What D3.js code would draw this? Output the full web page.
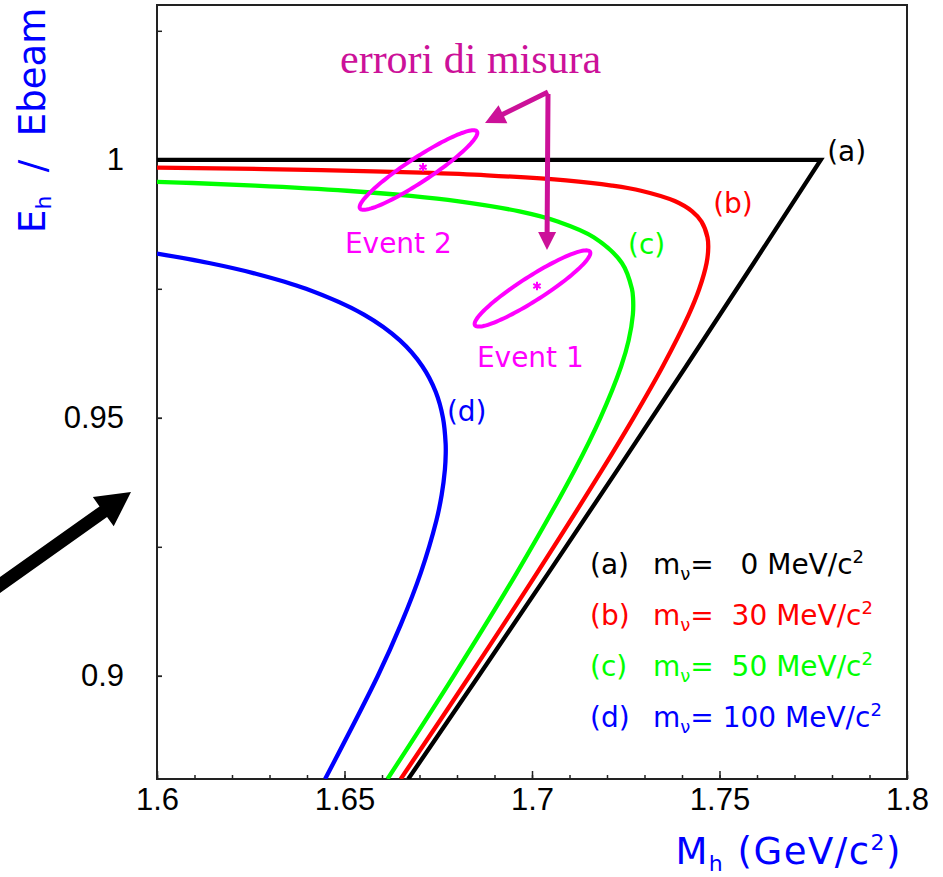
<!DOCTYPE html>
<html>
<head>
<meta charset="utf-8">
<script src="https://cdn.jsdelivr.net/npm/d3@7"></script>
<style>
    body { margin: 0; background: #fff; }
    svg { display: block; }
    text { white-space: pre; }
</style>
</head>
<body>
<svg id="chart" width="943" height="877"></svg>
<script>
// Neutrino masses (MeV/c^2) for the four kinematic limits
const nuMasses = [0, 30, 50, 100];
const curveTags = ['a', 'b', 'c', 'd'];

// Limits: M_h (GeV/c^2) and E_h / Ebeam
const curveA_M = [1.6, 1.777, 1.75914, 1.74110, 1.72287, 1.70444, 1.68581, 1.66700];
const curveA_E = [1.0, 1.0, 0.98, 0.96, 0.94, 0.92, 0.90, 0.88];

const curveB_M = [1.66499, 1.68340, 1.70140, 1.71877, 1.72706, 1.73488, 1.74181, 1.74461, 1.74656, 1.74700,
    1.74679, 1.74520, 1.74271, 1.73806, 1.72907, 1.72129, 1.70909, 1.68794, 1.67055, 1.64387, 1.62879, 1.6];
const curveB_E = [0.88, 0.90, 0.92, 0.94, 0.95, 0.96, 0.97, 0.975, 0.98, 0.983,
    0.985, 0.988, 0.99, 0.992, 0.994, 0.995, 0.996, 0.997, 0.9975, 0.998, 0.9982, 0.99848];

const curveC_M = [1.66147, 1.67913, 1.69598, 1.71146, 1.71824, 1.72378, 1.72577, 1.72690, 1.72696, 1.72664,
    1.72397, 1.71645, 1.70704, 1.69666, 1.68002, 1.66763, 1.65064, 1.62617, 1.60949, 1.6];
const curveC_E = [0.88, 0.90, 0.92, 0.94, 0.95, 0.96, 0.965, 0.97, 0.973, 0.975,
    0.98, 0.985, 0.988, 0.99, 0.992, 0.993, 0.994, 0.995, 0.9955, 0.99574];

const curveD_M = [1.64483, 1.65890, 1.66506, 1.67036, 1.67447, 1.67590, 1.67678, 1.67699, 1.67697, 1.67626,
    1.67434, 1.67075, 1.66478, 1.65519, 1.63975, 1.62595, 1.61387, 1.6];
const curveD_E = [0.88, 0.90, 0.91, 0.92, 0.93, 0.935, 0.94, 0.943, 0.945, 0.95,
    0.955, 0.96, 0.965, 0.97, 0.975, 0.978, 0.98, 0.98183];

// Measured events and their error ellipses (half axes in data units)
const eventNames = ['Event 1', 'Event 2'];
const eventM = [1.70133, 1.67093];
const eventE = [0.97554, 0.99857];
const ellipseM = [1.70013, 1.66973];
const ellipseE = [0.97506, 0.99802];
const ellipseMajM = [0.01533, 0.01560];
const ellipseMajE = [0.00713, 0.00746];
const ellipseMinM = [0.00176, 0.00176];
const ellipseMinE = [-0.00194, -0.00194];

// Axis ticks
const xTicks = [1.6, 1.65, 1.7, 1.75, 1.8];
const yTicks = [0.9, 0.95, 1];
const yMinorTicks = [0.9, 0.925, 0.95, 0.975, 1, 1.025];

const COLORS = ['#000000', '#ff0000', '#00ff00', '#0000ff'];
const MAGENTA = '#ff00ff';
const PURPLE = '#cc1199';
const SANS = '"DejaVu Sans", sans-serif';

const chart = (function () {

    let svg = d3.select('#chart'),
        x = d3.scaleLinear().domain([1.6, 1.8]).range([157, 907]),
        y = d3.scaleLinear().domain([0.88, 1.03]).range([779, 5])
    ;

    return { init };

    function init() {
        drawAxes();
        drawCurves();
        drawEvents();
        drawLegend();
        drawAnnotations();
    }

    function drawAxes() {
        svg.append('clipPath').attr('id', 'clip')
            .append('rect')
            .attr('x', x(1.6)).attr('y', y(1.03))
            .attr('width', x(1.8) - x(1.6)).attr('height', y(0.88) - y(1.03));

        let gx = svg.append('g').attr('transform', `translate(0,${y(0.88)})`);
        gx.call(d3.axisBottom(x).tickValues(x.ticks(20)).tickSize(-4).tickFormat(''));
        gx.append('g').call(d3.axisBottom(x).tickValues(xTicks).tickSize(-8).tickPadding(9).tickFormat(String));

        let gy = svg.append('g').attr('transform', `translate(${x(1.6)},0)`);
        gy.call(d3.axisLeft(y).tickValues(yMinorTicks).tickSize(-5).tickFormat(''));
        gy.append('g').call(d3.axisLeft(y).tickValues(yTicks).tickSize(-5).tickPadding(33).tickFormat(String));

        svg.selectAll('.domain').remove();
        svg.selectAll('.tick line').attr('stroke', '#222').attr('stroke-width', 1.5);
        svg.selectAll('.tick text')
            .attr('font-family', '"Liberation Sans", Arial, sans-serif')
            .attr('font-size', 31)
            .attr('fill', '#000');

        svg.append('rect')
            .attr('x', x(1.6)).attr('y', y(1.03))
            .attr('width', x(1.8) - x(1.6)).attr('height', y(0.88) - y(1.03))
            .attr('fill', 'none').attr('stroke', '#222').attr('stroke-width', 2);

        // Axis titles
        let xt = svg.append('text')
            .attr('x', 902).attr('y', 864)
            .attr('text-anchor', 'end')
            .attr('letter-spacing', 1.5)
            .attr('font-family', SANS).attr('font-size', 37).attr('fill', '#0000ff');
        xt.append('tspan').text('M');
        xt.append('tspan').attr('dy', 7).attr('font-size', 22).text('h');
        xt.append('tspan').attr('dy', -7).text(' (GeV/c');
        xt.append('tspan').attr('dy', -14).attr('font-size', 22).text('2');
        xt.append('tspan').attr('dy', 14).text(')');

        let yt = svg.append('text')
            .attr('transform', 'translate(45,233) rotate(-90)')
            .attr('font-family', SANS).attr('font-size', 37).attr('fill', '#0000ff');
        yt.append('tspan').text('E');
        yt.append('tspan').attr('dy', 6).attr('font-size', 22).text('h');
        yt.append('tspan').attr('dy', -6).text('  /  Ebeam');
    }

    function drawCurves() {
        let smooth = d3.line().x((d) => x(d[0])).y((d) => y(d[1])).curve(d3.curveCatmullRom.alpha(0.5)),
            straight = d3.line().x((d) => x(d[0])).y((d) => y(d[1])),
            series = [
                d3.zip(curveA_M, curveA_E),
                d3.zip(curveB_M, curveB_E),
                d3.zip(curveC_M, curveC_E),
                d3.zip(curveD_M, curveD_E)
            ];

        svg.append('g').attr('clip-path', 'url(#clip)')
            .selectAll('path')
            .data(series)
            .enter().append('path')
            .attr('d', (d, i) => i === 0 ? straight(d) : smooth(d))
            .attr('fill', 'none')
            .attr('stroke', (d, i) => COLORS[i])
            .attr('stroke-width', 4.3)
            .attr('stroke-linejoin', 'miter');

        // Curve tags
        let tagPos = [[1.7787, 0.9998], [1.7483, 0.9897], [1.7256, 0.9817], [1.6773, 0.9494]];
        svg.append('g').selectAll('text')
            .data(curveTags)
            .enter().append('text')
            .attr('x', (d, i) => x(tagPos[i][0]))
            .attr('y', (d, i) => y(tagPos[i][1]))
            .attr('font-family', SANS).attr('font-size', 28)
            .attr('fill', (d, i) => COLORS[i])
            .text((d) => `(${d})`);
    }

    function drawEvents() {
        let angles = d3.range(0, 2 * Math.PI + 0.01, Math.PI / 60),
            g = svg.append('g');

        eventNames.forEach((name, i) => {
            let pts = angles.map((a) => [
                ellipseM[i] + ellipseMajM[i] * Math.cos(a) + ellipseMinM[i] * Math.sin(a),
                ellipseE[i] + ellipseMajE[i] * Math.cos(a) + ellipseMinE[i] * Math.sin(a)
            ]);
            g.append('path')
                .attr('d', d3.line().x((d) => x(d[0])).y((d) => y(d[1]))(pts) + 'Z')
                .attr('fill', 'none').attr('stroke', MAGENTA).attr('stroke-width', 4);

            g.append('path')
                .attr('transform', `translate(${x(eventM[i])},${y(eventE[i])})`)
                .attr('d', d3.symbol(d3.symbolAsterisk, 50)())
                .attr('fill', 'none').attr('stroke', MAGENTA).attr('stroke-width', 2);
        });

        let labelPos = [[1.6853, 0.9598], [1.6501, 0.9819]];
        g.selectAll('text')
            .data(eventNames)
            .enter().append('text')
            .attr('x', (d, i) => x(labelPos[i][0]))
            .attr('y', (d, i) => y(labelPos[i][1]))
            .attr('font-family', SANS).attr('font-size', 28)
            .attr('fill', MAGENTA)
            .text((d) => d);
    }

    function drawLegend() {
        nuMasses.forEach((m, i) => {
            let t = svg.append('text')
                .attr('x', 590).attr('y', 574 + i * 51)
                .attr('font-family', SANS).attr('font-size', 28)
                .attr('fill', COLORS[i]);
            t.append('tspan').text(`(${curveTags[i]})`);
            t.append('tspan').attr('x', 653).text('m');
            t.append('tspan').attr('dy', 6).attr('font-size', 18).text('ν');
            t.append('tspan').attr('dy', -6).text('=' + String(m).padStart(4, ' ') + ' MeV/c');
            t.append('tspan').attr('dy', -11).attr('font-size', 18).text('2');
        });
    }

    // Arrow polygon from (x0,y0) to tip (x1,y1)
    function arrow(x0, y0, x1, y1, half, headLen, headHalf) {
        let len = Math.hypot(x1 - x0, y1 - y0),
            ux = (x1 - x0) / len, uy = (y1 - y0) / len,
            nx = -uy, ny = ux,
            bx = x1 - ux * headLen, by = y1 - uy * headLen;
        return [
            [x0 + nx * half, y0 + ny * half],
            [bx + nx * half, by + ny * half],
            [bx + nx * headHalf, by + ny * headHalf],
            [x1, y1],
            [bx - nx * headHalf, by - ny * headHalf],
            [bx - nx * half, by - ny * half],
            [x0 - nx * half, y0 - ny * half]
        ];
    }

    function drawAnnotations() {
        let poly = (p) => 'M' + p.map((q) => q.join(',')).join('L') + 'Z';

        svg.append('text')
            .attr('x', 340).attr('y', 73)
            .attr('font-family', '"Liberation Serif", "Times New Roman", serif')
            .attr('font-size', 42)
            .attr('fill', PURPLE)
            .text('errori di misura');

        let cx = x(1.70427), cy = y(1.01314);
        svg.append('path')
            .attr('d', poly(arrow(cx, cy, x(1.68747), y(1.00713), 2.5, 20, 10)) + poly(arrow(cx, cy + 2, x(1.704), y(0.98252), 2.5, 18, 9)))
            .attr('fill', PURPLE);

        svg.append('path')
            .attr('d', poly(arrow(-10, 592.2, 131, 492, 6.5, 34, 18)))
            .attr('fill', '#000');
    }

}());

chart.init();
</script>
</body>
</html>
